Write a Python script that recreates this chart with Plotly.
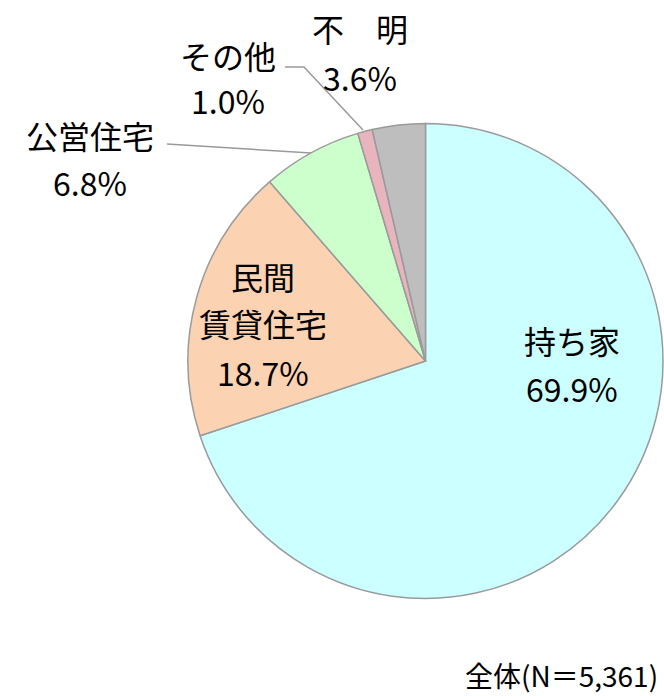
import plotly.graph_objects as go

# ---- data ----
categories = ["持ち家", "民間賃貸住宅", "公営住宅", "その他", "不明"]
label_lines = [["持ち家"], ["民間", "賃貸住宅"], ["公営住宅"], ["その他"], ["不　明"]]
values = [69.9, 18.7, 6.8, 1.0, 3.6]
colors = ["#CCFFFF", "#FCD3B2", "#CCFFCC", "#E8B4BE", "#BEBEBE"]
note_text = "全体(N＝5,361)"

W, H = 664, 696
FONT = "Noto Sans CJK JP"


def px(x):
    return x / W


def py(y):
    return 1 - y / H


fig = go.Figure(
    go.Pie(
        labels=categories,
        values=values,
        sort=False,
        direction="clockwise",
        rotation=0,
        textinfo="none",
        hoverinfo="label+percent",
        marker=dict(colors=colors, line=dict(color="#9A9A9A", width=1.5)),
        domain=dict(x=[px(188), px(663)], y=[py(599), py(123)]),
        showlegend=False,
    )
)

# label positions (pixel centres): x centre, name line y's, percent line y
label_pos = [
    (572, [340], 388),
    (263, [276, 323], 372),
    (90, [135], 182),
    (228, [55], 100),
    (360, [28], 77),
]

FS = 32
annotations = []
for i, (xc, ys, yp) in enumerate(label_pos):
    for line, yy in zip(label_lines[i], ys):
        annotations.append(dict(x=px(xc), y=py(yy), xref="paper", yref="paper",
                                text=line, showarrow=False, xanchor="center", yanchor="middle",
                                font=dict(family=FONT, size=FS, color="#000000")))
    annotations.append(dict(x=px(xc), y=py(yp), xref="paper", yref="paper",
                            text=f"{values[i]:.1f}%", showarrow=False, xanchor="center", yanchor="middle",
                            font=dict(family=FONT, size=FS, color="#000000")))

annotations.append(dict(x=px(660), y=py(675), xref="paper", yref="paper", text=note_text,
                        showarrow=False, xanchor="right", yanchor="middle",
                        font=dict(family=FONT, size=28, color="#000000")))

line_style = dict(color="#9A9A9A", width=1.5)
shapes = [
    dict(type="path", xref="paper", yref="paper",
         path=f"M {px(285)},{py(67)} L {px(304)},{py(67)} L {px(363)},{py(130)}", line=line_style),
    dict(type="line", xref="paper", yref="paper",
         x0=px(167), y0=py(144), x1=px(311), y1=py(153), line=line_style),
]

fig.update_layout(
    width=W, height=H,
    margin=dict(l=0, r=0, t=0, b=0),
    paper_bgcolor="white", plot_bgcolor="white",
    annotations=annotations, shapes=shapes,
)

fig.write_html("out.html", config={"displayModeBar": False})

# remove the default page margin so the figure fills the window exactly
with open("out.html", "r", encoding="utf-8") as f:
    html = f.read()
html = html.replace("<head>", "<head><style>html,body{margin:0;padding:0;overflow:hidden;}</style>", 1)
with open("out.html", "w", encoding="utf-8") as f:
    f.write(html)
